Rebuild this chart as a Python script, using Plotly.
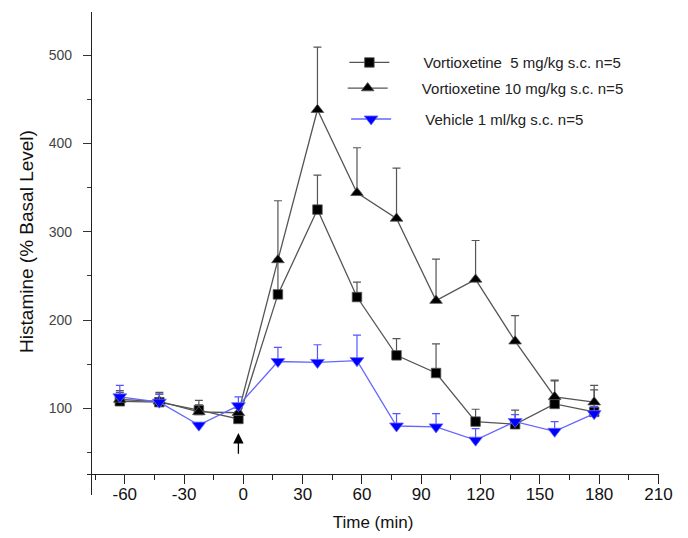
import plotly.graph_objects as go

# ---- data ----
time_min = [-62.5, -42.5, -22.5, -2.5, 17.5, 37.5, 57.5, 77.5, 97.5, 117.5, 137.5, 157.5, 177.5]

vort5_mean = [108, 107, 98, 88, 229, 325, 226, 160, 140, 85, 82, 105, 96]
vort5_sem = [12, 11, 11, 8, 40, 39, 17, 19, 33, 14, 16, 26, 25]

vort10_mean = [110, 108, 96, 95, 268, 438, 344, 315, 222, 246, 176, 113, 107]
vort10_sem = [8, 8, 8, 5, 67, 71, 51, 57, 47, 44, 29, 19, 19]

vehicle_mean = [113, 107, 81, 103, 153, 152, 154, 80, 79, 64, 85, 74, 94]
vehicle_sem = [13, 9, 3, 10, 16, 20, 29, 14, 15, 13, 8, 11, 8]

names = ["Vortioxetine  5 mg/kg s.c. n=5",
         "Vortioxetine 10 mg/kg s.c. n=5",
         "Vehicle 1 ml/kg s.c. n=5"]

x_ticks = [-60, -30, 0, 30, 60, 90, 120, 150, 180, 210]
x_tick_labels = ["-60", "-30", "0", "30", "60", "90", "120", "150", "180", "210"]
y_ticks = [100, 200, 300, 400, 500]

injection_time = -2.5
arrow_head_y = 72
arrow_tail_y = 47

FONT = "Liberation Sans, Arial, sans-serif"

fig = go.Figure()

series = [
    (vort5_mean, vort5_sem, names[0], "square", 9.5, "#000000", "#555555", "#555555", "legend"),
    (vort10_mean, vort10_sem, names[1], "triangle-up", 11, "#000000", "#555555", "#555555", "legend2"),
    (vehicle_mean, vehicle_sem, names[2], "triangle-down", 12, "#0000ff", "#6666ff", "#5555ff", "legend3"),
]

PAD = "       "
for mean, sem, name, sym, size, mcol, lcol, ecol, leg in series:
    fig.add_trace(go.Scatter(
        x=time_min, y=mean, name=PAD + name, mode="lines+markers",
        line=dict(color=lcol, width=1.3),
        marker=dict(symbol=sym, size=size, color=mcol, line=dict(color=lcol, width=0.8)),
        error_y=dict(type="data", array=sem, arrayminus=[0] * len(sem), symmetric=False,
                     color=ecol, thickness=1.2, width=4),
        legend=leg, showlegend=True,
    ))

fig.add_annotation(
    x=injection_time, y=arrow_head_y, ax=injection_time, ay=arrow_tail_y,
    xref="x", yref="y", axref="x", ayref="y", text="", showarrow=True,
    arrowhead=2, arrowsize=1.6, arrowwidth=1.3, arrowcolor="#000000",
)

# y-axis title placed as a rotated annotation to match the reference position
fig.add_annotation(
    text="Histamine (% Basal Level)", textangle=-90, showarrow=False,
    xref="paper", yref="paper", x=-0.105, y=0.526, xanchor="center", yanchor="middle",
    font=dict(family=FONT, size=19, color="#111"),
)

legend_common = dict(font=dict(family=FONT, size=15, color="#222222"), bgcolor="rgba(0,0,0,0)",
                     xanchor="left", yanchor="middle", itemwidth=40, borderwidth=0, visible=True)
fig.update_layout(
    width=680, height=530,   # the page body adds an 8px margin around the figure
    showlegend=True,
    margin=dict(l=79, r=29, t=4, b=43, autoexpand=False),
    paper_bgcolor="white", plot_bgcolor="white",
    legend=dict(x=0.45, y=0.895, **legend_common),
    legend2=dict(x=0.447, y=0.842, **legend_common),
    legend3=dict(x=0.453, y=0.778, **legend_common),
    xaxis=dict(
        range=[-79.1, 210.3], anchor="free", position=0.0429, automargin=False,
        tickvals=x_ticks, ticktext=x_tick_labels, ticks="outside", ticklen=9, tickwidth=1.1, tickcolor="#222",
        minor=dict(dtick=15, tick0=0, ticks="outside", ticklen=5, tickwidth=1.1, tickcolor="#222"),
        showline=True, linecolor="#222", linewidth=1.2, showgrid=False, zeroline=False,
        tickfont=dict(family=FONT, size=17, color="#111"), ticklabelstandoff=-5,
        title=dict(text="Time (min)", font=dict(family=FONT, size=17, color="#111"), standoff=13),
    ),
    yaxis=dict(
        range=[1.9, 548.7], anchor="free", position=0.007, automargin=False,
        tickvals=y_ticks, ticks="outside", ticklen=8, tickwidth=1.1, tickcolor="#333",
        minor=dict(dtick=50, tick0=0, ticks="outside", ticklen=4, tickwidth=1.1, tickcolor="#333"),
        showline=True, linecolor="#222", linewidth=1.2, showgrid=False, zeroline=False,
        tickfont=dict(family=FONT, size=14, color="#444"), ticklabelstandoff=8,
    ),
)

fig.write_html("out.html")
